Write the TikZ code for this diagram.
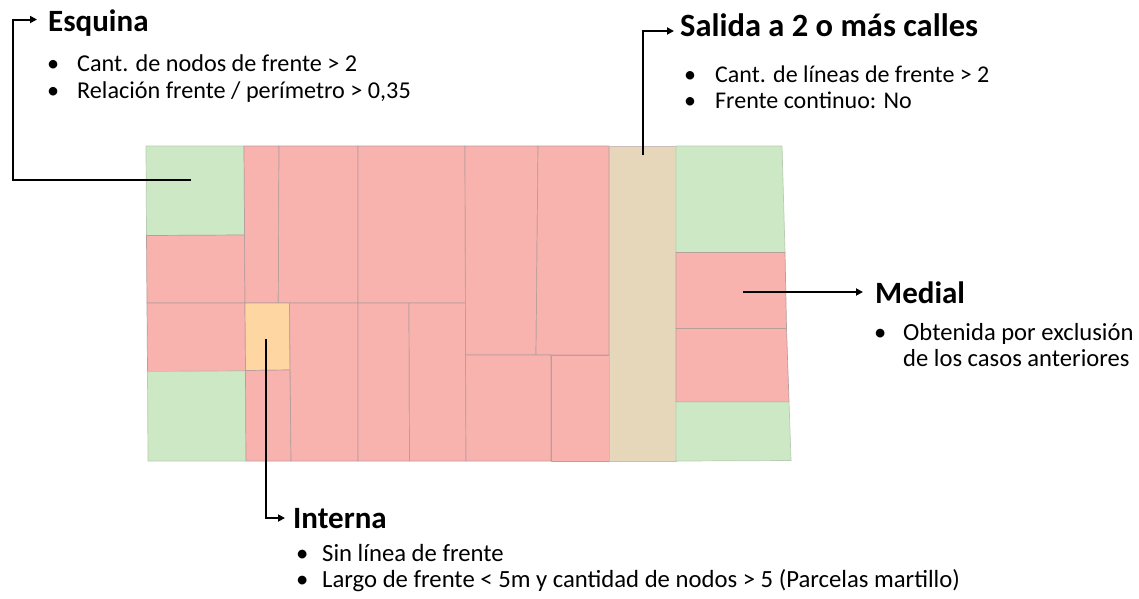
\documentclass[tikz,border=0pt]{standalone}
\usepackage{fontspec}
\setmainfont{Carlito}
\usetikzlibrary{arrows.meta}
\definecolor{pgreen}{HTML}{CDE8C5}
\definecolor{pred}{HTML}{F9B3AE}
\definecolor{porange}{HTML}{FDD6A1}
\definecolor{ptan}{HTML}{E6D7BB}
\definecolor{pline}{HTML}{B89E9C}
\definecolor{gline}{HTML}{B8CCB2}
\newcommand{\bitem}[2]{\makebox[#1][l]{\textbullet}#2}
\begin{document}
\begin{tikzpicture}[x=1pt,y=-1pt,
  parcel/.style={draw=pline,line width=0.7pt,line join=round},
  gparcel/.style={parcel,draw=gline,fill=pgreen},
  rparcel/.style={parcel,fill=pred},
  arr/.style={line width=2pt,-{Triangle[length=7pt,width=7pt]}},
  ttl/.style={font=\bfseries\fontsize{31}{34}\selectfont,anchor=base west,inner sep=0pt},
  blist/.style={font=\fontsize{24.3}{27}\selectfont,anchor=base west,inner sep=0pt}]
\useasboundingbox (0,0) rectangle (1139,598);
\fill[white] (0,0) rectangle (1139,598);
% parcels
\path[gparcel] (146,146) -- (244,146) -- (244.5,235) -- (146.5,235.5) -- cycle;
\path[rparcel] (146.5,235.5) -- (244.5,235) -- (245,303) -- (147,303) -- cycle;
\path[rparcel] (147,303) -- (245,303) -- (245.5,371) -- (147.5,371.5) -- cycle;
\path[gparcel] (147.5,371.5) -- (245.5,371) -- (246,461) -- (148,461) -- cycle;
\path[rparcel] (244,146) -- (279,146) -- (278.3,303) -- (245,303) -- cycle;
\path[rparcel] (279,146) -- (358,146) -- (358,303) -- (278.3,303) -- cycle;
\path[rparcel] (358,146) -- (465,146) -- (465.5,303) -- (358,303) -- cycle;
\path[parcel,fill=porange] (245,303) -- (289.5,303) -- (290,370) -- (245.5,370.5) -- cycle;
\path[rparcel] (245.5,370.5) -- (290,370) -- (291,461) -- (246,461) -- cycle;
\path[rparcel] (289.5,303) -- (358,303) -- (358,461) -- (291,461) -- cycle;
\path[rparcel] (358,303) -- (409,303) -- (409.5,461) -- (358,461) -- cycle;
\path[rparcel] (409,303) -- (465.5,303) -- (466,461) -- (409.5,461) -- cycle;
\path[rparcel] (465,146) -- (538,146) -- (536,355) -- (465.5,355) -- cycle;
\path[rparcel] (538,146) -- (609,146) -- (609,355) -- (536,355) -- cycle;
\path[rparcel] (465.5,355) -- (551,355) -- (551,461) -- (466,461) -- cycle;
\path[rparcel] (551,355) -- (609,355) -- (609,461) -- (551,461) -- cycle;
\path[parcel,draw=pline!70,fill=ptan] (609,146) -- (676,146) -- (676,461) -- (609,461) -- cycle;
\path[gparcel] (676,146) -- (782,146) -- (785,252.5) -- (676,252.5) -- cycle;
\path[rparcel] (676,252.5) -- (785,252.5) -- (786.5,328.5) -- (676,328.5) -- cycle;
\path[rparcel] (676,328.5) -- (786.5,328.5) -- (789,402) -- (676,402) -- cycle;
\path[gparcel] (676,402) -- (789,402) -- (791,460.5) -- (676,461) -- cycle;
% titles
\node[ttl] (esq) at (48,31) {Esquina};
\node[ttl,font=\bfseries\fontsize{32.5}{36}\selectfont] (sal) at (680,36) {Salida a 2 o más calles};
\node[ttl] (med) at (875,303) {Medial};
\node[ttl] (int) at (293,528) {Interna};
% lists
\node[blist,font=\fontsize{24.2}{27}\selectfont] (esq1) at (47,71) {\bitem{30pt}{Cant. de nodos de frente > 2}};
\node[blist,font=\fontsize{24.2}{27}\selectfont] (esq2) at (47,98) {\bitem{30pt}{Relación frente / perímetro > 0,35}};
\node[blist,font=\fontsize{24}{27}\selectfont] (sal1) at (684,82) {\bitem{31pt}{Cant. de líneas de frente > 2}};
\node[blist,font=\fontsize{24}{27}\selectfont] (sal2) at (684,108) {\bitem{31pt}{Frente continuo: No}};
\node[blist,font=\fontsize{24.6}{27}\selectfont] (med1) at (874,340) {\bitem{29pt}{Obtenida por exclusión}};
\node[blist,font=\fontsize{24.6}{27}\selectfont] (med2) at (903,366) {de los casos anteriores};
\node[blist,font=\fontsize{24.7}{27}\selectfont] (int1) at (296,561) {\bitem{26pt}{Sin línea de frente}};
\node[blist,font=\fontsize{24.7}{27}\selectfont] (int2) at (296,587) {\bitem{26pt}{Largo de frente < 5m y cantidad de nodos > 5 (Parcelas martillo)}};
% connectors
\coordinate (esqs) at (191,180);
\coordinate (esqt) at (37,19.5);
\coordinate (sals) at (642.7,155);
\coordinate (salt) at (674,31);
\coordinate (meds) at (742.5,292);
\coordinate (medt) at (863,292);
\coordinate (ints) at (266,339);
\coordinate (intt) at (285,518);
\draw[arr] (esqs) -- (12.7,180) |- (esqt);
\draw[arr] (sals) |- (salt);
\draw[arr] (meds) -- (medt);
\draw[arr] (ints) |- (intt);
\end{tikzpicture}
\end{document}
